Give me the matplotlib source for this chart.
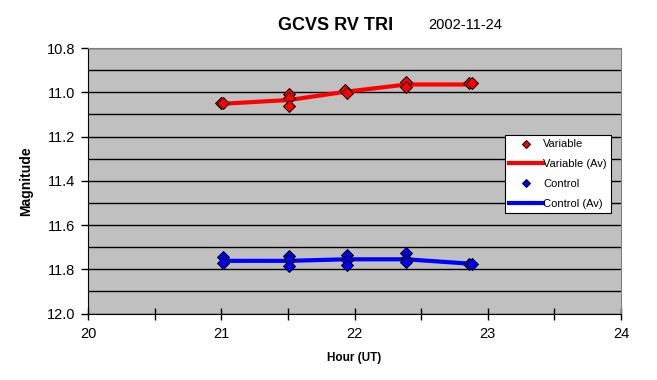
import matplotlib.pyplot as plt
from matplotlib.ticker import MultipleLocator

plt.rcParams['font.family'] = ['Liberation Sans', 'DejaVu Sans']

# observations
var_hour = [21.00, 21.015, 21.51, 21.51, 21.51, 21.93, 21.94, 22.39, 22.39, 22.86, 22.88]
var_mag = [11.05, 11.05, 11.01, 11.028, 11.063, 10.99, 11.005, 10.955, 10.975, 10.96, 10.96]
ctrl_hour = [21.01, 21.01, 21.51, 21.51, 21.51, 21.94, 21.94, 21.94, 22.39, 22.39, 22.39, 22.86, 22.88]
ctrl_mag = [11.745, 11.772, 11.741, 11.76, 11.787, 11.737, 11.757, 11.78, 11.727, 11.753, 11.768, 11.775, 11.775]

# averages
av_hour = [21.01, 21.51, 21.93, 22.39, 22.87]
var_av = [11.052, 11.035, 10.998, 10.965, 10.965]
ctrl_av = [11.762, 11.762, 11.755, 11.755, 11.775]

fig = plt.figure(figsize=(6.57, 3.80), dpi=100)
ax = fig.add_axes([88 / 657, 1 - 313.5 / 380, 533 / 657, 265.5 / 380])
ax.set_facecolor('#c0c0c0')

ax.plot(var_hour, var_mag, 'D', color='red', markeredgecolor='black', markersize=6.5,
        markeredgewidth=0.7, label='Variable', zorder=4)
ax.plot(av_hour, var_av, '-', color='red', linewidth=3, label='Variable (Av)', zorder=3)
ax.plot(ctrl_hour, ctrl_mag, 'D', color='blue', markeredgecolor='black', markersize=6.5,
        markeredgewidth=0.7, label='Control', zorder=4)
ax.plot(av_hour, ctrl_av, '-', color='blue', linewidth=3, label='Control (Av)', zorder=3)

ax.set_xlim(20, 24)
ax.set_ylim(12.0, 10.8)
ax.xaxis.set_major_locator(MultipleLocator(1))
ax.xaxis.set_minor_locator(MultipleLocator(0.5))
ax.yaxis.set_major_locator(MultipleLocator(0.2))
ax.yaxis.set_minor_locator(MultipleLocator(0.1))
ax.yaxis.set_major_formatter(plt.FormatStrFormatter('%.1f'))
ax.grid(which='both', axis='y', color='black', linewidth=1)
ax.set_axisbelow(True)

ax.tick_params(axis='x', which='both', direction='inout', length=8, width=1, labelsize=10.5, pad=6)
ax.tick_params(axis='y', which='major', direction='out', length=5, width=1, labelsize=10.5, pad=4)
ax.tick_params(axis='y', which='minor', length=0)

for s in ['top', 'right']:
    ax.spines[s].set_color('#808080')
for s in ['left', 'bottom']:
    ax.spines[s].set_color('black')

ax.set_xlabel('Hour (UT)', fontsize=8.5, fontweight='bold', labelpad=8)
ax.set_ylabel('Magnitude', fontsize=10, fontweight='bold', labelpad=10)

fig.text(336 / 657, 1 - 25 / 380, 'GCVS RV TRI', fontsize=13, fontweight='bold',
         ha='center', va='center')
fig.text(465 / 657, 1 - 25 / 380, '2002-11-24', fontsize=10.5, ha='center', va='center')

leg = ax.legend(loc='upper left', bbox_to_anchor=((505 - 88) / 533, (313.5 - 135) / 265.5),
                fontsize=8, frameon=True, fancybox=False, edgecolor='black',
                framealpha=1, borderpad=0.4, labelspacing=0.88, handlelength=3.0,
                handletextpad=0.05, borderaxespad=0, markerscale=0.6)
leg.get_frame().set_linewidth(0.8)

fig.savefig('out.png', dpi=100)
